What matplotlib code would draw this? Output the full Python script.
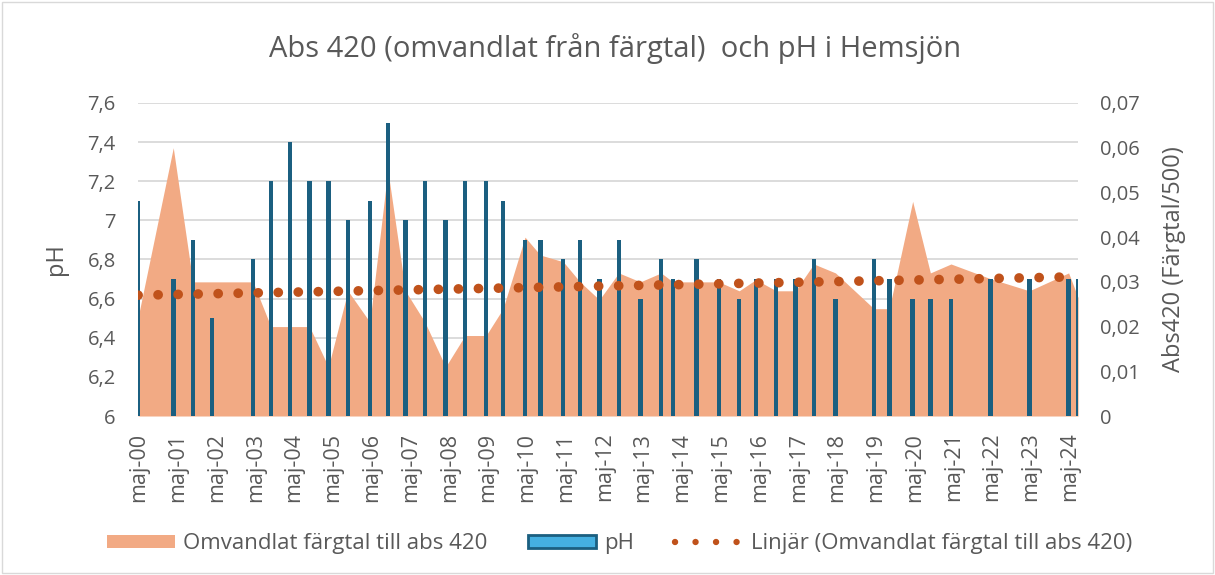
import numpy as np
import pandas as pd
import matplotlib
matplotlib.use("Agg")
import matplotlib.pyplot as plt
import matplotlib.dates as mdates
from matplotlib.patches import Patch, Rectangle
from matplotlib.lines import Line2D
from matplotlib.ticker import FuncFormatter, MultipleLocator

plt.rcParams['font.family'] = ['Open Sans', 'DejaVu Sans']

# provtagningsdatum
dates = pd.to_datetime([
    "2000-04-22", "2001-03-20", "2001-09-20", "2002-03-20", "2003-04-10",
    "2003-09-25", "2004-03-25", "2004-09-23", "2005-03-20", "2005-09-20",
    "2006-04-15", "2006-10-01", "2007-03-15", "2007-09-15", "2008-03-28",
    "2008-09-27", "2009-04-13", "2009-09-20", "2010-04-15", "2010-09-06",
    "2011-04-10", "2011-09-15", "2012-03-15", "2012-09-14", "2013-04-05",
    "2013-10-18", "2014-02-05", "2014-09-18", "2015-04-14", "2015-10-23",
    "2016-03-28", "2016-10-06", "2017-04-05", "2017-09-25", "2018-04-17",
    "2019-04-14", "2019-09-06", "2020-04-13", "2020-09-27", "2021-04-09",
    "2022-04-17", "2023-04-17", "2024-04-21", "2024-07-19",
])

ph = [
    7.1, 6.7, 6.9, 6.5, 6.8,
    7.2, 7.4, 7.2, 7.2, 7.0,
    7.1, 7.5, 7.0, 7.2, 7.0,
    7.2, 7.2, 7.1, 6.9, 6.9,
    6.8, 6.9, 6.7, 6.9, 6.6,
    6.8, 6.7, 6.8, 6.7, 6.6,
    6.7, 6.7, 6.7, 6.8, 6.6,
    6.8, 6.7, 6.6, 6.6, 6.6,
    6.7, 6.7, 6.7, 6.7,
]

abs420 = [
    0.022, 0.060, 0.030, 0.030, 0.030,
    0.020, 0.020, 0.020, 0.011, 0.028,
    0.021, 0.055, 0.028, 0.021, 0.011,
    0.018, 0.018, 0.024, 0.040, 0.036,
    0.0345, 0.030, 0.026, 0.032, 0.030,
    0.032, 0.030, 0.030, 0.030, 0.028,
    0.0305, 0.028, 0.028, 0.034, 0.032,
    0.024, 0.024, 0.048, 0.032, 0.034,
    0.0307, 0.028, 0.032, 0.0265,
]

grey = "#595959"
area_col = "#F2AA84"
bar_col = "#1B5F80"
bar_light = "#45B0E1"
trend_col = "#C0521B"

fig = plt.figure(figsize=(12.15, 5.75), dpi=100)
fig.patches.append(Rectangle((0.002, 0.003), 0.996, 0.994, transform=fig.transFigure,
                             fill=False, edgecolor="#D9D9D9", linewidth=1))

ax = fig.add_axes([0.1136, 0.2765, 0.7737, 0.5444])
ax_area = ax.twinx()
ax_bar = ax.twinx()
ax_trend = ax.twinx()

# rutnät på pH-axeln, längst bak
ax.set_ylim(6, 7.6)
ax.yaxis.set_major_locator(MultipleLocator(0.2))
ax.grid(axis="y", color="#D9D9D9", linewidth=1.3)
ax.set_axisbelow(True)
ax.yaxis.set_major_formatter(FuncFormatter(lambda v, p: ("%g" % round(v, 1)).replace(".", ",")))
ax.set_ylabel("pH", color=grey, fontsize=17, labelpad=14)

# area: omvandlat färgtal
ax_area.fill_between(dates, 0, abs420, color=area_col, linewidth=0)
ax_area.set_ylim(0, 0.07)
ax_area.yaxis.set_major_locator(MultipleLocator(0.01))
ax_area.yaxis.set_major_formatter(FuncFormatter(
    lambda v, p: "0" if abs(v) < 1e-9 else ("%.2f" % v).replace(".", ",")))
ax_area.set_ylabel("Abs420 (Färgtal/500)", color=grey, fontsize=17, labelpad=16)

# staplar: pH
ax_bar.bar(dates, ph, width=42, color=bar_col, linewidth=0)
ax_bar.set_ylim(6, 7.6)
ax_bar.yaxis.set_visible(False)

# linjär trend
xn = mdates.date2num(dates)
k, m = np.polyfit(xn, abs420, 1)
xt = np.array([xn[0], xn[-1]])
ax_trend.plot(xt, k * xt + m, color=trend_col, linewidth=7,
              linestyle=(0, (0.01, 2.05)), dash_capstyle="round")
ax_trend.set_ylim(0, 0.07)
ax_trend.yaxis.set_visible(False)

ax.set_xlim(dates[0], dates[-1])
ax.xaxis.set_major_locator(mdates.YearLocator(1, month=5, day=1))
ax.xaxis.set_major_formatter(mdates.DateFormatter("maj-%y"))

for a in (ax, ax_area, ax_bar, ax_trend):
    for s in a.spines.values():
        s.set_visible(False)
    a.tick_params(length=0, colors=grey, labelsize=14.5)
ax.tick_params(axis="y", pad=16)
ax_area.tick_params(axis="y", pad=16)
ax.tick_params(axis="x", pad=12, rotation=90, labelsize=15.5)

fig.text(0.506, 0.915, "Abs 420 (omvandlat från färgtal)  och pH i Hemsjön",
         ha="center", va="center", fontsize=21, color=grey)

handles = [
    Patch(facecolor=area_col, edgecolor="none"),
    Patch(facecolor=bar_light, edgecolor=bar_col, linewidth=2),
    Line2D([0], [0], color=trend_col, linewidth=4.6, linestyle=(0, (0.01, 3.2)),
           dash_capstyle="round"),
]
labels = ["Omvandlat färgtal till abs 420", "pH", "Linjär (Omvandlat färgtal till abs 420)"]
fig.legend(handles, labels, loc="center", bbox_to_anchor=(0.51, 0.054), ncol=3,
           frameon=False, fontsize=16, labelcolor=grey, handlelength=3.05,
           handleheight=0.55, handletextpad=0.35, columnspacing=1.85)

fig.savefig("out.png", dpi=100)
